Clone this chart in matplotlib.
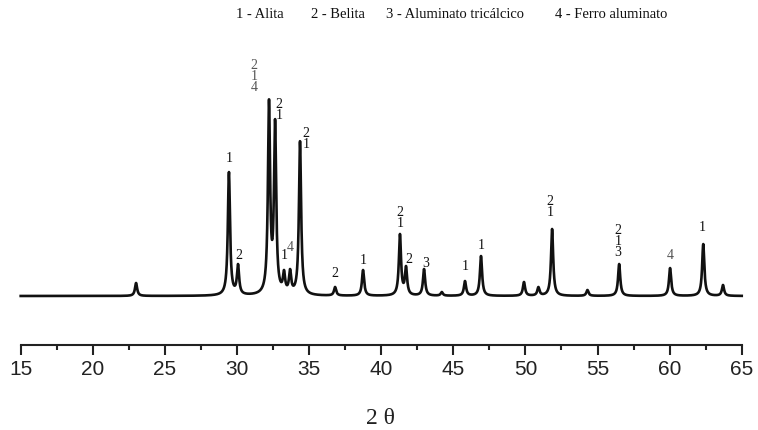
import numpy as np
import matplotlib
matplotlib.use("Agg")
import matplotlib.pyplot as plt
from matplotlib.ticker import MultipleLocator

# peak positions (2 theta, deg) and heights above baseline (arb. units)
peak_pos = [23.0, 29.44, 30.07, 32.22, 32.64, 33.26, 33.68, 34.37, 36.8, 38.74,
            41.3, 41.72, 42.97, 44.2, 45.81, 46.92, 49.9, 50.9, 51.85, 54.3,
            56.5, 60.03, 62.33, 63.7]
peak_height = [13, 124, 32, 197, 177, 26, 27, 155, 9, 26,
               62, 30, 27, 4, 15, 40, 14, 9, 67, 6,
               32, 28, 52, 11]

# phase labels: which peak they belong to and the text
label_peak = [29.44, 30.07, 32.22, 32.64, 33.26, 33.68, 34.37, 36.8, 38.74,
              41.3, 41.72, 42.97, 45.81, 46.92, 51.85, 56.5, 60.03, 62.33]
label_text = ["1", "2", "2\n1\n4", "2\n1", "1", "4", "2\n1", "2", "1",
              "2\n1", "2", "3", "1", "1", "2\n1", "2\n1\n3", "4", "1"]
# layout offsets in pixels (dx, gap above the peak top)
label_dx = [0, 1, -15, 4, 0, 0, 6, 0, 0, 0, 3, 2, 0, 0, -2, -1, 0, -1]
label_gap = [7, 2, 5, -3, 8, 15, -10, 7, 3, 4, 0, -1, 8, 4, 10, 5, 6, 10]

legend_items = ["1 - Alita", "2 - Belita", "3 - Aluminato tricálcico", "4 - Ferro aluminato"]
legend_x = [236, 311, 386, 555]

W, H = 758, 430
GAMMA = 0.09


def lorentz(x, x0):
    return GAMMA ** 2 / ((x - x0) ** 2 + GAMMA ** 2)


def main() -> None:
    pos = np.array(peak_pos)
    hgt = np.array(peak_height, dtype=float)
    # amplitudes so the summed profile reaches the read heights at each peak
    A = lorentz(pos[:, None], pos[None, :])
    amp = np.linalg.solve(A, hgt)

    x = np.linspace(15, 65, 6001)
    y = (amp[None, :] * lorentz(x[:, None], pos[None, :])).sum(axis=1)

    fig = plt.figure(figsize=(W / 100, H / 100), dpi=100)
    left_px, right_px = 10.6, 757.6
    ax = fig.add_axes([left_px / W, (H - 345) / H, (right_px - left_px) / W, 305 / H])
    ax.plot(x, y, color="#111111", lw=1.9)
    ax.set_xlim(14.3, 66.1)
    ax.set_ylim(-49, 256)

    for s in ("top", "left", "right"):
        ax.spines[s].set_visible(False)
    ax.spines["bottom"].set_bounds(15, 65)
    ax.spines["bottom"].set_linewidth(1.5)
    ax.spines["bottom"].set_color("#222222")
    ax.set_yticks([])
    ax.xaxis.set_major_locator(MultipleLocator(5))
    ax.xaxis.set_minor_locator(MultipleLocator(2.5))
    ax.tick_params(axis="x", which="major", length=7.5, width=1.5, color="#222222",
                   labelsize=15, pad=3.5, labelcolor="#222222")
    ax.tick_params(axis="x", which="minor", length=3.8, width=1.5, color="#222222")
    for t in ax.get_xticklabels():
        t.set_fontfamily("Liberation Sans")

    # peak labels
    for xp, txt, dx, gap in zip(label_peak, label_text, label_dx, label_gap):
        top = hgt[np.argmin(np.abs(pos - xp))]
        col = "#555555" if txt.endswith("4") else "#111111"
        ax.annotate(txt, (xp, top), xytext=(dx * 0.72, gap * 0.72),
                    textcoords="offset points", ha="center", va="bottom",
                    fontsize=10, family="Liberation Serif", color=col,
                    linespacing=0.8)

    for lx, item in zip(legend_x, legend_items):
        fig.text(lx / W, 1 - 15 / H, item, ha="left", va="center",
                 fontsize=10.5, family="Liberation Serif", color="#111111")

    fig.text(380 / W, 1 - 418 / H, "2 θ", ha="center", va="center",
             fontsize=17, family="Liberation Serif", color="#222222")

    fig.savefig("out.png", dpi=100)
    plt.close(fig)


if __name__ == "__main__":
    main()
